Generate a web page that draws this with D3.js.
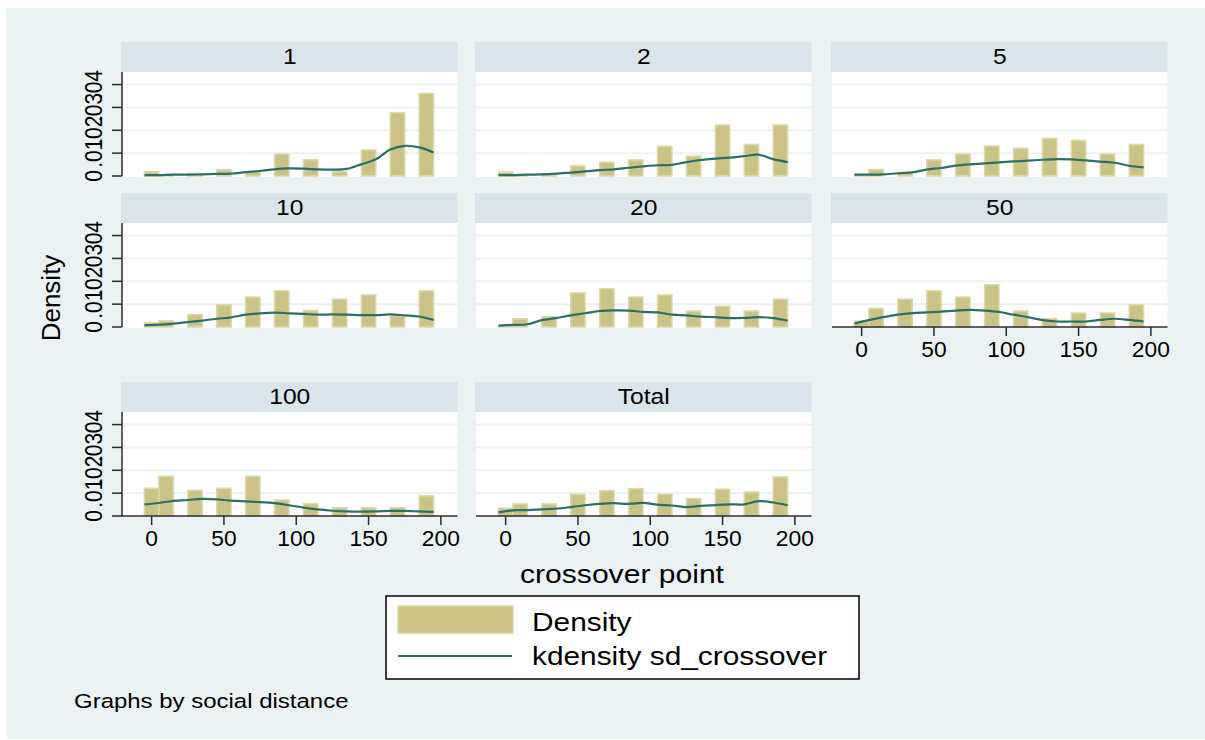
<!DOCTYPE html>
<html>
<head>
<meta charset="utf-8">
<script src="https://cdn.jsdelivr.net/npm/d3@7"></script>
<style>
  html, body { margin: 0; padding: 0; background: #ffffff; }
  svg { display: block; }
  text { font-family: "Liberation Sans", Arial, Helvetica, sans-serif; fill: #000; }
</style>
</head>
<body>
<svg id="chart" width="1205" height="740"></svg>
<script>
// Histogram of crossover points by social distance, with kernel density overlay.
const panelNames = ["1", "2", "5", "10", "20", "50", "100", "Total"];

// Histogram bar centers (crossover point)
const binCenters = [0, 10, 30, 50, 70, 90, 110, 130, 150, 170, 190];

// Histogram densities per panel
const hist_1     = [0.0019, 0.0006, 0.0012, 0.0028, 0.0019, 0.0096, 0.0071, 0.0019, 0.0114, 0.0277, 0.0361];
const hist_2     = [0.0017, 0.0006, 0.0009, 0.0044, 0.0060, 0.0070, 0.0130, 0.0087, 0.0223, 0.0138, 0.0223];
const hist_5     = [0.0004, 0.0028, 0.0016, 0.0070, 0.0096, 0.0131, 0.0121, 0.0164, 0.0156, 0.0096, 0.0138];
const hist_10    = [0.0018, 0.0027, 0.0054, 0.0097, 0.0131, 0.0158, 0.0072, 0.0122, 0.0140, 0.0048, 0.0158];
const hist_20    = [0.0003, 0.0036, 0.0045, 0.0149, 0.0167, 0.0131, 0.0140, 0.0070, 0.0090, 0.0070, 0.0122];
const hist_50    = [0.0025, 0.0081, 0.0122, 0.0158, 0.0131, 0.0185, 0.0070, 0.0036, 0.0061, 0.0061, 0.0097];
const hist_100   = [0.0121, 0.0174, 0.0112, 0.0121, 0.0174, 0.0070, 0.0054, 0.0036, 0.0036, 0.0036, 0.0088];
const hist_Total = [0.0034, 0.0053, 0.0053, 0.0095, 0.0111, 0.0120, 0.0095, 0.0076, 0.0117, 0.0105, 0.0171];

// Kernel density evaluation points
const kdGrid = [-5, 5, 15, 25, 35, 45, 55, 65, 75, 85, 95, 105, 115, 125, 135, 145, 155, 165, 175, 185, 195];

// Kernel density estimates per panel
const kd_1     = [0.0004, 0.0004, 0.0006, 0.0006, 0.0007, 0.0009, 0.0010, 0.0017, 0.0022, 0.0029, 0.0033, 0.0032, 0.0029, 0.0028, 0.0031, 0.0051, 0.0073, 0.0116, 0.0132, 0.0125, 0.0103];
const kd_2     = [0.0004, 0.0004, 0.0006, 0.0007, 0.0010, 0.0015, 0.0020, 0.0026, 0.0029, 0.0036, 0.0042, 0.0047, 0.0049, 0.0061, 0.0070, 0.0076, 0.0080, 0.0087, 0.0093, 0.0074, 0.0061];
const kd_5     = [0.0006, 0.0006, 0.0007, 0.0012, 0.0016, 0.0028, 0.0035, 0.0045, 0.0051, 0.0055, 0.0060, 0.0064, 0.0067, 0.0071, 0.0074, 0.0073, 0.0068, 0.0063, 0.0058, 0.0045, 0.0038];
const kd_10    = [0.0007, 0.0010, 0.0015, 0.0021, 0.0028, 0.0036, 0.0042, 0.0054, 0.0060, 0.0063, 0.0060, 0.0057, 0.0054, 0.0055, 0.0054, 0.0052, 0.0052, 0.0055, 0.0051, 0.0046, 0.0031];
const kd_20    = [0.0006, 0.0009, 0.0012, 0.0030, 0.0039, 0.0051, 0.0060, 0.0070, 0.0073, 0.0072, 0.0066, 0.0064, 0.0054, 0.0051, 0.0045, 0.0043, 0.0039, 0.0040, 0.0043, 0.0039, 0.0028];
const kd_50    = [0.0016, 0.0030, 0.0043, 0.0054, 0.0061, 0.0064, 0.0067, 0.0072, 0.0075, 0.0072, 0.0066, 0.0054, 0.0043, 0.0030, 0.0024, 0.0024, 0.0024, 0.0031, 0.0036, 0.0031, 0.0024];
const kd_100   = [0.0051, 0.0057, 0.0066, 0.0070, 0.0075, 0.0073, 0.0067, 0.0064, 0.0061, 0.0056, 0.0047, 0.0037, 0.0029, 0.0023, 0.0020, 0.0019, 0.0020, 0.0022, 0.0022, 0.0020, 0.0018];
const kd_Total = [0.0016, 0.0025, 0.0026, 0.0029, 0.0032, 0.0039, 0.0047, 0.0053, 0.0056, 0.0053, 0.0057, 0.0050, 0.0046, 0.0039, 0.0044, 0.0048, 0.0051, 0.0051, 0.0065, 0.0059, 0.0047];

// Axis ticks
const yTickValues = [0, 0.01, 0.02, 0.03, 0.04];
const yTickLabels = ["0", ".01", ".02", ".03", ".04"];
const xTickValues = [0, 50, 100, 150, 200];
const xTickLabels = ["0", "50", "100", "150", "200"];

const histByPanel = [hist_1, hist_2, hist_5, hist_10, hist_20, hist_50, hist_100, hist_Total];
const kdByPanel   = [kd_1, kd_2, kd_5, kd_10, kd_20, kd_50, kd_100, kd_Total];

// Styling
const C = {
  region: "#eaf2f3",
  strip: "#d9e5eb",
  plot: "#ffffff",
  grid: "#eaf2f3",
  bar: "#cbc386",
  barEdge: "#ddd8ab",
  line: "#2d6e66",
  axis: "#2b2b2b"
};

// Facet layout
const colX = [122, 476, 832];
const plotW = 335.5;
const rowTop = [42, 193, 382];
const stripH = 30;
const plotH = 104;

const svg = d3.select("#chart");

svg.append("rect").attr("x", 6).attr("y", 8).attr("width", 1199).attr("height", 731).attr("fill", C.region);

const x = d3.scaleLinear().domain([-20.5, 211.5]).range([0, plotW]);
const y = d3.scaleLinear().domain([0, 0.0455]).range([plotH, 0]);
const barHalf = 5.5;

// Text helper: horizontally widened glyphs
function label(g, txt, tx, ty, size, sx, anchor, rotate) {
  const t = g.append("g")
    .attr("transform", `translate(${tx},${ty}) scale(${sx},1)` + (rotate ? ` rotate(${rotate})` : ""));
  t.append("text")
    .attr("font-size", size)
    .attr("text-anchor", anchor || "start")
    .text(txt);
  return t;
}

panelNames.forEach((name, i) => {
  const col = i % 3, row = Math.floor(i / 3);
  const x0 = colX[col], top = rowTop[row];
  const g = svg.append("g").attr("transform", `translate(${x0},${top + stripH})`);

  // strip
  svg.append("rect").attr("x", x0 - 1).attr("y", top).attr("width", plotW + 1).attr("height", stripH).attr("fill", C.strip);
  label(svg, name, x0 + plotW / 2, top + 22, 22, 1.12, "middle");

  // plot region
  g.append("rect").attr("x", 0).attr("y", 0).attr("width", plotW).attr("height", plotH + 1).attr("fill", C.plot);

  // gridlines
  g.selectAll("line.grid").data(yTickValues.slice(1)).enter().append("line")
    .attr("x1", 0).attr("x2", plotW)
    .attr("y1", d => y(d)).attr("y2", d => y(d))
    .attr("stroke", C.grid).attr("stroke-width", 2);

  // histogram bars
  const vals = histByPanel[i];
  g.selectAll("rect.bar").data(binCenters.map((c, k) => ({ c, v: vals[k] }))).enter().append("rect")
    .attr("x", d => x(d.c - barHalf) + 0.75)
    .attr("width", d => x(d.c + barHalf) - x(d.c - barHalf) - 1.5)
    .attr("y", d => y(d.v))
    .attr("height", d => y(0) - y(d.v))
    .attr("fill", C.bar).attr("stroke", C.barEdge).attr("stroke-width", 1.5);

  // kernel density
  const kd = kdByPanel[i];
  g.append("path")
    .datum(kdGrid.map((gx, k) => [gx, kd[k]]))
    .attr("fill", "none").attr("stroke", C.line).attr("stroke-width", 2.2)
    .attr("stroke-linejoin", "round")
    .attr("d", d3.line().x(d => x(d[0])).y(d => y(d[1])).curve(d3.curveCatmullRom.alpha(0.5)));

  // y axis on the first column
  if (col === 0) {
    const ya = g.append("g");
    ya.append("line").attr("x1", 0).attr("x2", 0).attr("y1", 0).attr("y2", plotH)
      .attr("stroke", C.axis).attr("stroke-width", 1.5);
    yTickValues.forEach((v, k) => {
      ya.append("line").attr("x1", -10).attr("x2", 0).attr("y1", y(v)).attr("y2", y(v))
        .attr("stroke", C.axis).attr("stroke-width", 1.5);
    });
    yTickValues.forEach((v, k) => {
      label(ya, yTickLabels[k], -20, y(v), 21, 1.1, "middle", -90);
    });
  }

  // x axis on the bottom panel of each column
  if (name === "50" || name === "100" || name === "Total") {
    const xa = g.append("g").attr("transform", `translate(0,${plotH})`);
    xa.append("line").attr("x1", 0).attr("x2", plotW).attr("y1", 0).attr("y2", 0)
      .attr("stroke", C.axis).attr("stroke-width", 1.5);
    xTickValues.forEach((v, k) => {
      xa.append("line").attr("x1", x(v)).attr("x2", x(v)).attr("y1", 0).attr("y2", 9)
        .attr("stroke", C.axis).attr("stroke-width", 1.5);
      label(xa, xTickLabels[k], x(v), 29.5, 21.5, 1.06, "middle");
    });
  }
});

// axis titles
label(svg, "Density", 60, 298, 26, 1.0, "middle", -90);
label(svg, "crossover point", 622, 583, 25.5, 1.18, "middle");

// legend
const lg = svg.append("g");
lg.append("rect").attr("x", 386).attr("y", 596).attr("width", 473).attr("height", 83)
  .attr("fill", "#ffffff").attr("stroke", "#000").attr("stroke-width", 1.5);
lg.append("rect").attr("x", 398).attr("y", 606).attr("width", 115).attr("height", 27)
  .attr("fill", C.bar).attr("stroke", C.barEdge).attr("stroke-width", 1.5);
lg.append("line").attr("x1", 398).attr("x2", 512).attr("y1", 656).attr("y2", 656)
  .attr("stroke", C.line).attr("stroke-width", 2.2);
label(lg, "Density", 532, 631, 25.5, 1.17, "start");
label(lg, "kdensity sd_crossover", 532, 665, 25.5, 1.17, "start");

// note
label(svg, "Graphs by social distance", 74, 708, 20.5, 1.17, "start");
</script>
</body>
</html>
